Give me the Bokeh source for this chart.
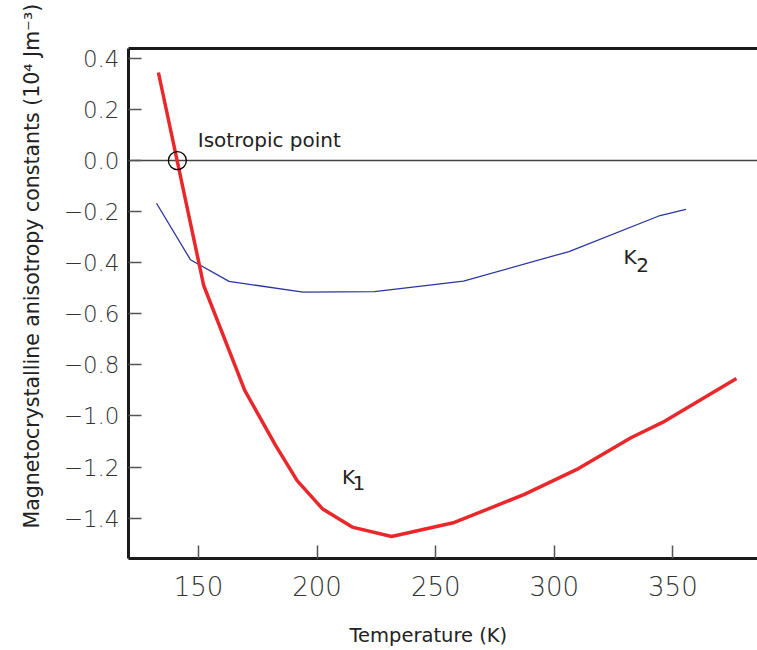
from math import pi
from bokeh.plotting import figure
from bokeh.models import Range1d, LinearAxis, FixedTicker, Label
from bokeh.embed import file_html
from bokeh.resources import INLINE

# K1 (red) and K2 (blue) anisotropy constants, 10^4 J m^-3, vs temperature (K)
k1_temp = [133.1, 152.2, 169.5, 182.5, 191.6, 202.2, 214.8, 231.4, 257.9, 287.4, 310.2, 332.5, 346.5, 376.8]
k1_val = [0.345, -0.489, -0.900, -1.115, -1.253, -1.363, -1.435, -1.472, -1.417, -1.307, -1.206, -1.084, -1.021, -0.853]
k2_temp = [132.3, 146.6, 162.9, 194.1, 224.2, 261.7, 306.2, 344.6, 355.5]
k2_val = [-0.167, -0.388, -0.473, -0.515, -0.513, -0.472, -0.356, -0.215, -0.191]
iso_temp = [141.1]
iso_val = [0.0]

x_ticks = [150, 200, 250, 300, 350]
y_ticks = [0.4, 0.2, 0.0, -0.2, -0.4, -0.6, -0.8, -1.0, -1.2, -1.4]
y_tick_labels = ["0.4", "0.2", "0.0", "\u22120.2", "\u22120.4", "\u22120.6", "\u22120.8", "\u22121.0", "\u22121.2", "\u22121.4"]

# layout: the plotting area fills the page; axes are pinned where the original frame was
X_LO, X_HI = 66.53, 385.67          # visible temperature span of the canvas
Y_LO, Y_HI = -1.9182, 0.6269        # visible value span of the canvas
AX_X = 120.49                        # temperature at the left axis line
AX_Y_BOT, AX_Y_TOP = -1.5584, 0.4385 # values at the bottom / top frame lines

TICK_FONT = "'DejaVu Sans Light', 'DejaVu Sans'"
LABEL_FONT = "DejaVu Sans"

p = figure(width=757, height=650, output_backend="svg", toolbar_location=None,
           x_range=Range1d(X_LO, X_HI), y_range=Range1d(Y_LO, Y_HI),
           min_border_left=0, min_border_right=0, min_border_top=0, min_border_bottom=0)
p.outline_line_color = None
p.grid.visible = False
p.background_fill_color = "white"

xa, ya = p.xaxis[0], p.yaxis[0]
xa.fixed_location = AX_Y_BOT
xa.bounds = (AX_X, X_HI)
ya.fixed_location = AX_X
ya.bounds = (AX_Y_BOT, AX_Y_TOP)

for ax in (xa, ya):
    ax.axis_line_width = 3
    ax.axis_line_color = "#1a1a1a"
    ax.major_tick_in = 13
    ax.major_tick_out = 0
    ax.minor_tick_in = 0
    ax.minor_tick_out = 0
    ax.major_tick_line_color = "#555555"
    ax.major_tick_line_width = 1.5
    ax.major_label_text_font = TICK_FONT
    ax.major_label_text_color = "#333333"

xa.ticker = FixedTicker(ticks=x_ticks)
xa.major_label_text_font_size = "26px"
xa.major_label_standoff = 17
ya.ticker = FixedTicker(ticks=y_ticks)
ya.major_label_overrides = {t: l for t, l in zip(y_ticks, y_tick_labels)}
ya.major_label_text_font_size = "23px"
ya.major_label_standoff = 9

top = LinearAxis(ticker=FixedTicker(ticks=[]), axis_line_width=3, axis_line_color="#1a1a1a",
                 major_tick_in=0, major_tick_out=0, minor_tick_in=0, minor_tick_out=0,
                 major_label_text_font_size="0px", fixed_location=AX_Y_TOP,
                 bounds=(AX_X, X_HI))
p.add_layout(top, "above")

# zero reference line
p.line([AX_X, X_HI], [0, 0], line_color="#444444", line_width=1.5)

p.line(k2_temp, k2_val, line_color="#2b35a0", line_width=1.3)
p.line(k1_temp, k1_val, line_color="#e8282a", line_width=3.5)
p.scatter(iso_temp, iso_val, marker="circle", size=18, fill_color=None,
          line_color="black", line_width=1.3)

def lab(x, y, text, size="20px", font=LABEL_FONT, **kw):
    p.add_layout(Label(x=x, y=y, text=text, text_font=font, text_font_size=size,
                       text_color="#222222", text_baseline="alphabetic", **kw))

lab(149.7, 0.080, "Isotropic point", size="20px")
lab(210.5, -1.237, "K", size="20px")
lab(214.9, -1.263, "1", size="20px")
lab(329.2, -0.378, "K", size="20px")
lab(334.6, -0.409, "2", size="20px")
lab(213.66, -1.858, "Temperature (K)", size="19.5px")
p.add_layout(Label(x=79.6, y=-1.4405, angle=pi / 2,
                   text="Magnetocrystalline anisotropy constants (10\u2074 Jm\u207b\u00b3)",
                   text_font=LABEL_FONT, text_font_size="20.5px", text_color="#222222",
                   text_align="left", text_baseline="middle"))

open("out.html", "w").write(file_html(p, INLINE))
